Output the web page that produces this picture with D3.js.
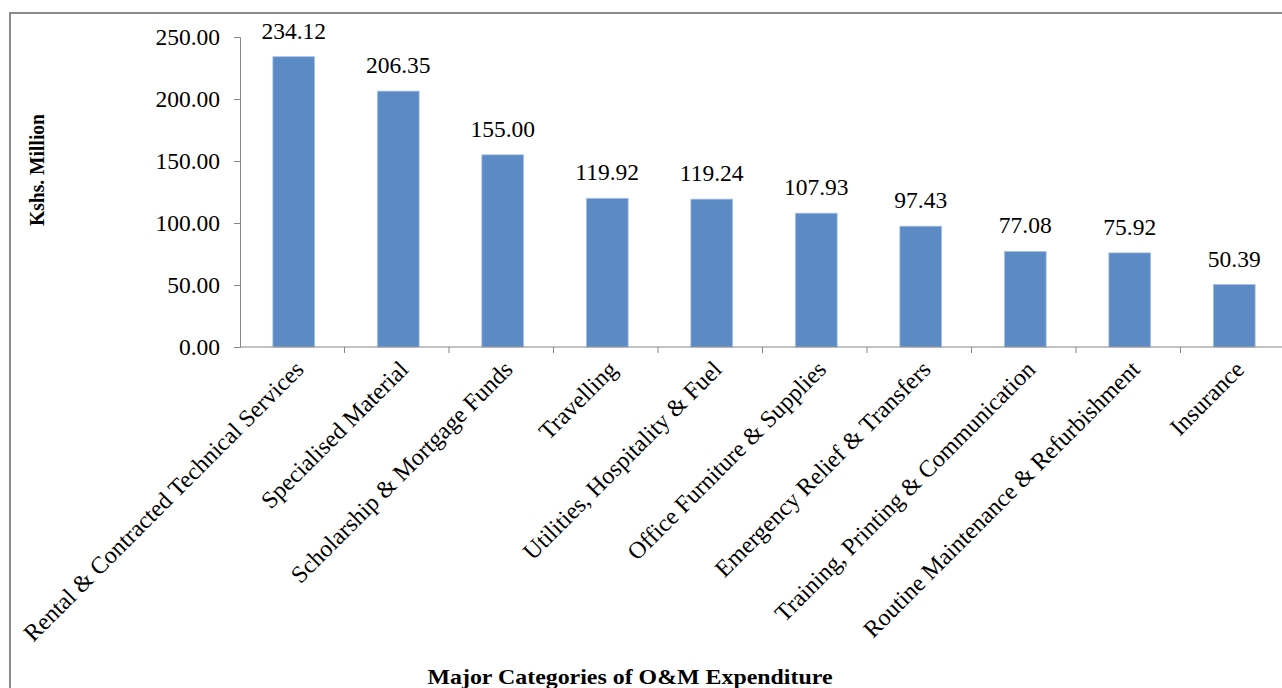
<!DOCTYPE html>
<html><head><meta charset="utf-8">
<script src="https://cdn.jsdelivr.net/npm/d3@7/dist/d3.min.js"></script>
<style>body{margin:0;background:#fff;overflow:hidden}svg{display:block}text{font-family:"Liberation Serif","Times New Roman",serif;fill:#000}</style>
</head><body><svg id="c" width="1282" height="688"></svg>
<script>
const categories = ["Rental & Contracted Technical Services","Specialised Material","Scholarship & Mortgage Funds","Travelling","Utilities, Hospitality & Fuel","Office Furniture & Supplies","Emergency Relief & Transfers","Training, Printing & Communication","Routine Maintenance & Refurbishment","Insurance"];
const values = [234.12,206.35,155.00,119.92,119.24,107.93,97.43,77.08,75.92,50.39];
const yTicks = [0,50,100,150,200,250];
const yTitle = "Kshs. Million";
const xTitle = "Major Categories of O&M Expenditure";

(function(){
const svg = d3.select("#c");
svg.append("rect").attr("x",10).attr("y",13).attr("width",1300).attr("height",700)
  .attr("fill","#fff").attr("stroke","#8a8a8a").attr("stroke-width",2);

const pl=240, pr=1285, pt=37, pb=347;
const x = d3.scaleBand().domain(categories).range([pl,pr]).paddingInner(0.6).paddingOuter(0.3);
const y = d3.scaleLinear().domain([0,250]).range([pb,pt]);
const step = (pr-pl)/categories.length;
const fs = "23.5px";

svg.selectAll("rect.bar").data(values).join("rect").attr("class","bar")
  .attr("x",(d,i)=>x(categories[i])+1.5).attr("width",x.bandwidth())
  .attr("y",d=>y(d)).attr("height",d=>pb-y(d))
  .attr("fill","#5b8ac4").attr("stroke","#a9c3e6").attr("stroke-width",0.8);

const ya = svg.append("g").attr("transform",`translate(${pl},0)`)
  .call(d3.axisLeft(y).tickValues(yTicks).tickFormat(d3.format(".2f")).tickSize(6).tickPadding(14));
ya.selectAll("text").style("font-size",fs).attr("font-family",null);
ya.selectAll("path,line").attr("stroke","#868686");

const xa = svg.append("g");
xa.append("line").attr("x1",pl).attr("x2",pr).attr("y1",pb).attr("y2",pb).attr("stroke","#868686");
xa.selectAll("line.t").data(d3.range(1,categories.length+1)).join("line").attr("class","t")
  .attr("x1",i=>pl+i*step).attr("x2",i=>pl+i*step)
  .attr("y1",pb).attr("y2",pb+6).attr("stroke","#868686");

svg.selectAll("text.cat").data(categories).join("text").attr("class","cat")
  .attr("transform",d=>`translate(${x(d)+x.bandwidth()/2+1},${pb+12}) rotate(-45)`)
  .attr("text-anchor","end").attr("dy","0.7em").style("font-size","24px").text(d=>d);

svg.selectAll("text.val").data(values).join("text").attr("class","val")
  .attr("x",(d,i)=>x(categories[i])+x.bandwidth()/2+1.5).attr("y",d=>y(d)-18)
  .attr("text-anchor","middle").style("font-size",fs).text(d=>d3.format(".2f")(d));

svg.append("text").attr("transform","translate(44,170) rotate(-90)").attr("text-anchor","middle")
  .style("font-size","20px").style("font-weight","bold")
  .attr("textLength",112).attr("lengthAdjust","spacingAndGlyphs").text(yTitle);
svg.append("text").attr("x",630).attr("y",684).attr("text-anchor","middle")
  .style("font-size","22px").style("font-weight","bold")
  .attr("textLength",405).attr("lengthAdjust","spacingAndGlyphs").text(xTitle);
})();
</script></body></html>
